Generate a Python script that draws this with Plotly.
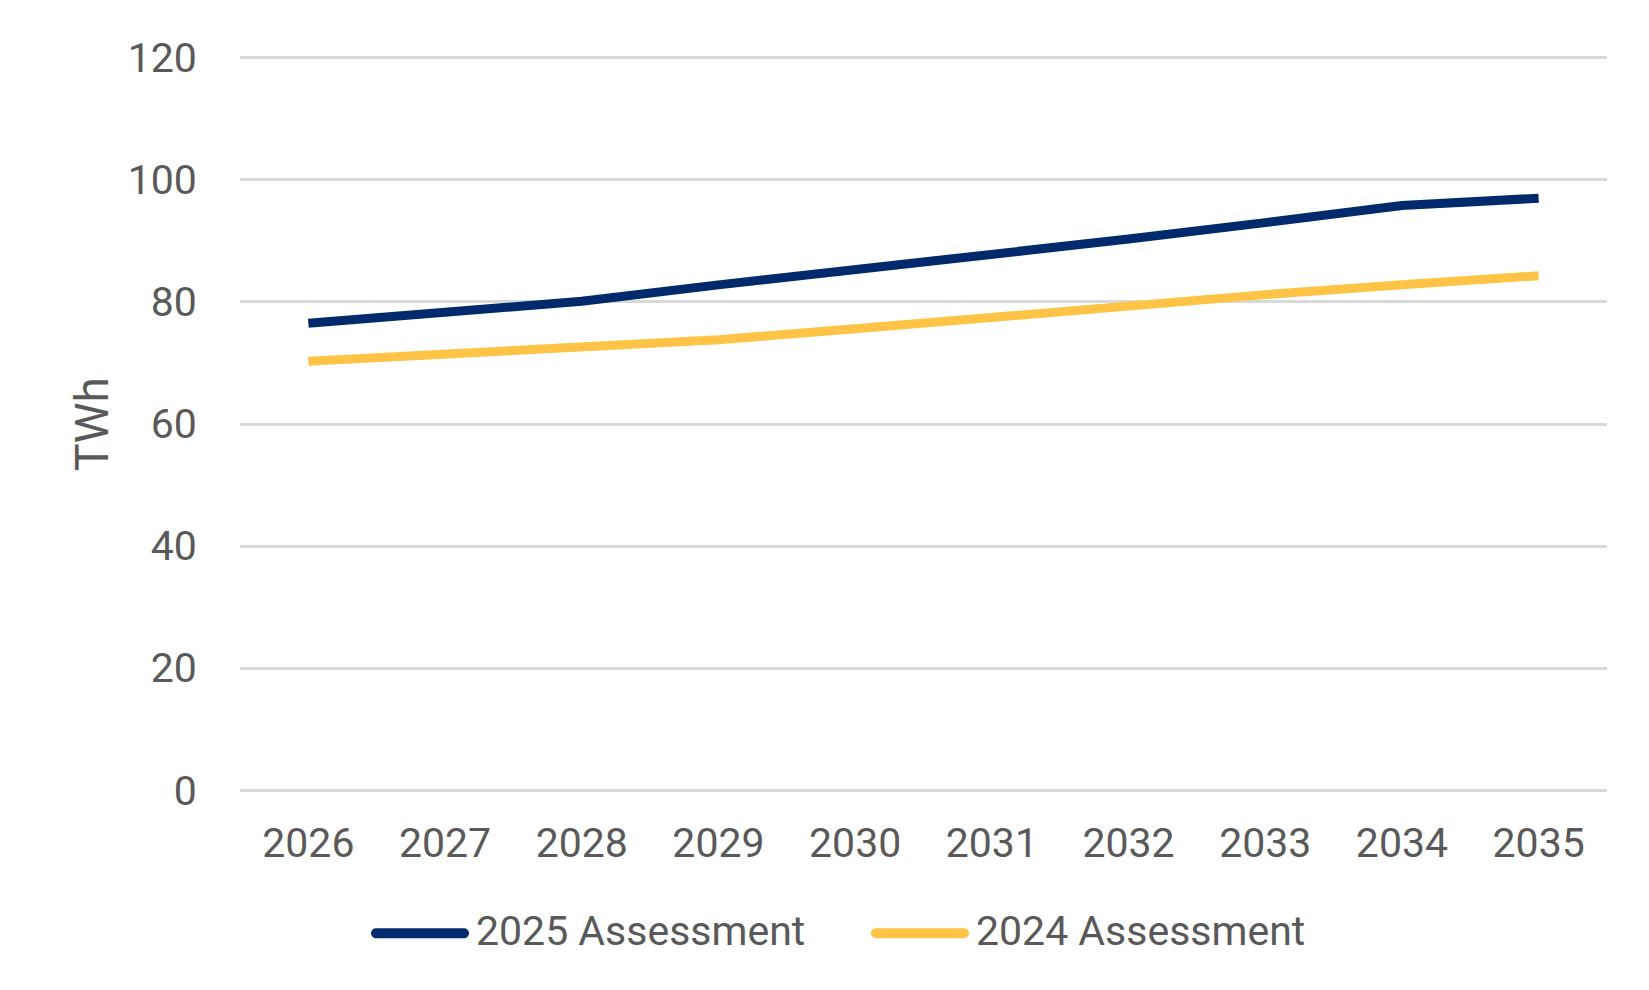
import plotly.graph_objects as go

years = ["2026", "2027", "2028", "2029", "2030", "2031", "2032", "2033", "2034", "2035"]
assess_2025 = [76.5, 78.2, 80.1, 82.8, 85.2, 87.6, 90.3, 93.0, 95.8, 97.0]
assess_2024 = [70.3, 71.5, 72.7, 73.8, 75.6, 77.5, 79.5, 81.2, 82.8, 84.3]
y_ticks = [0, 20, 40, 60, 80, 100, 120]
series_names = ["2025 Assessment", "2024 Assessment"]
series_colors = ["#012A6C", "#FFC445"]

FONT = "Roboto"
GREY = "#595959"
W, H = 1649, 990

# plot area in pixels
PX0, PX1 = 232, 1599
Y_LO, Y_HI = -0.3, 120.3
PY_ZERO, PX_PER_UNIT = 782, 6.1
PY_TOP = PY_ZERO - Y_HI * PX_PER_UNIT
PY_BOT = PY_ZERO - Y_LO * PX_PER_UNIT


def to_paper_x(px):
    return (px - PX0) / (PX1 - PX0)


def to_paper_y(py):
    return (PY_BOT - py) / (PY_BOT - PY_TOP)


def stadium_path(xa, xb, yc, r):
    k = 0.5523 * r
    pts = [
        ("M", [(xa + r, yc - r)]),
        ("L", [(xb - r, yc - r)]),
        ("C", [(xb - r + k, yc - r), (xb, yc - k), (xb, yc)]),
        ("C", [(xb, yc + k), (xb - r + k, yc + r), (xb - r, yc + r)]),
        ("L", [(xa + r, yc + r)]),
        ("C", [(xa + r - k, yc + r), (xa, yc + k), (xa, yc)]),
        ("C", [(xa, yc - k), (xa + r - k, yc - r), (xa + r, yc - r)]),
    ]
    s = ""
    for cmd, coords in pts:
        s += cmd + " ".join(f"{to_paper_x(x):.5f},{to_paper_y(y):.5f}" for x, y in coords) + " "
    return s + "Z"


fig = go.Figure()
for name, vals, col in zip(series_names, [assess_2025, assess_2024], series_colors):
    fig.add_trace(go.Scatter(x=years, y=vals, mode="lines", name=name,
                             line=dict(color=col, width=9), showlegend=False))

# custom legend (long line swatches like the original)
legend_items = [(363, 461, 467), (863, 961, 967)]
for (sx0, sx1, tx), name, col in zip(legend_items, series_names, series_colors):
    fig.add_shape(type="path", xref="paper", yref="paper",
                  path=stadium_path(sx0, sx1, 925, 5),
                  fillcolor=col, line=dict(width=0), layer="above")
    fig.add_annotation(xref="paper", yref="paper", x=to_paper_x(tx), y=to_paper_y(923),
                       xanchor="left", yanchor="middle", text=name, showarrow=False,
                       borderpad=0, font=dict(family=FONT, size=41, color=GREY))

# y axis title
fig.add_annotation(xref="paper", yref="paper", x=to_paper_x(84), y=to_paper_y(416),
                   xanchor="center", yanchor="middle", text="TWh", textangle=-90,
                   showarrow=False, borderpad=0,
                   font=dict(family=FONT, size=46, color=GREY))

fig.update_layout(
    width=W, height=H,
    margin=dict(l=PX0, r=W - PX1, t=PY_TOP, b=H - PY_BOT, autoexpand=False),
    paper_bgcolor="white", plot_bgcolor="white",
    font=dict(family=FONT, size=41, color=GREY),
    showlegend=False,
)
fig.update_xaxes(type="category", range=[-0.5, 9.5], showgrid=False,
                 showline=False, zeroline=False,
                 ticks="outside", ticklen=15, tickcolor="rgba(0,0,0,0)",
                 tickfont=dict(family=FONT, size=41, color=GREY))
fig.update_yaxes(range=[Y_LO, Y_HI], tickvals=y_ticks, showgrid=True,
                 gridcolor="#D9D9D9", gridwidth=3, zeroline=False, showline=False,
                 ticks="outside", ticklen=34, tickcolor="rgba(0,0,0,0)",
                 tickfont=dict(family=FONT, size=41, color=GREY))

fig.write_html("out.html")
